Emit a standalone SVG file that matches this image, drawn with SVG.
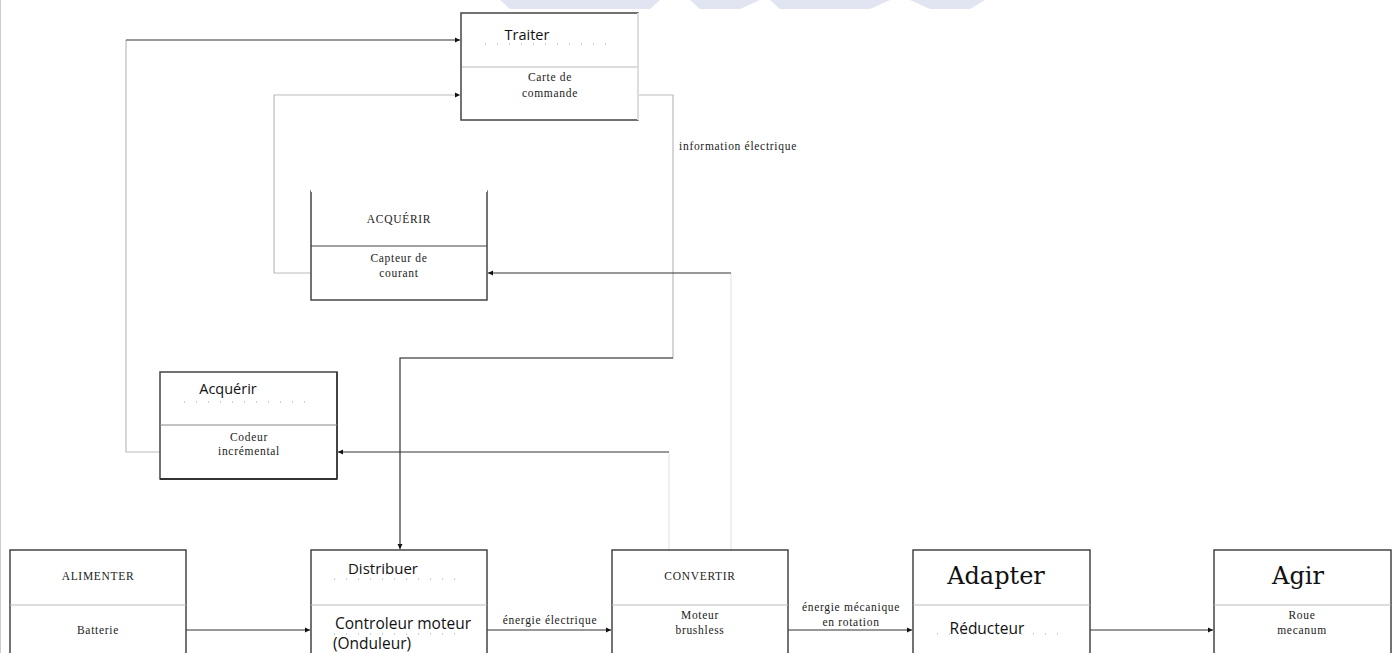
<svg xmlns="http://www.w3.org/2000/svg" width="1395" height="653" viewBox="0 0 1395 653">
<defs>
<marker id="ah" markerWidth="6" markerHeight="6" refX="5" refY="3" orient="auto" markerUnits="userSpaceOnUse">
<path d="M0,0.5 L5,3 L0,5.5 Z" fill="#111"/>
</marker>
<style>
.box{fill:#fff;stroke:#444;stroke-width:1.5}
.div{stroke:#bbb;stroke-width:1}
.dots{stroke:#8aa;stroke-width:1.2;stroke-dasharray:1 11}
.ser{font-family:"Liberation Serif",serif;font-size:11.5px;letter-spacing:0.7px;fill:#222;text-anchor:middle}
.san{font-family:"Open Sans","Liberation Sans",sans-serif;font-size:14.5px;fill:#111;text-anchor:middle}
.big{font-family:"DejaVu Serif","Liberation Serif",serif;font-size:24px;fill:#111;text-anchor:middle}
.c{fill:none;stroke:#333;stroke-width:1.2}
.cl{fill:none;stroke:#bbb;stroke-width:1.2}
.cv{fill:none;stroke:#e6e6e6;stroke-width:1.2}
</style>
</defs>
<rect width="1395" height="653" fill="#fff"/>
<line x1="0.5" y1="0" x2="0.5" y2="653" stroke="#ccc" stroke-width="1"/>
<g id="watermark" fill="#e1e4f1">
<polygon points="500,0 660,0 650,9 510,9"/>
<polygon points="690,0 760,0 740,9 700,9"/>
<polygon points="770,0 890,0 870,9 780,9"/>
<polygon points="910,0 985,0 970,9 930,9"/>
</g>
<g id="connectors">
<path class="cl" d="M160,452 H126 V40"/>
<path class="c" d="M126,40 H460" marker-end="url(#ah)"/>
<path class="cl" d="M311,273 H274 V95 H460" marker-end="url(#ah)"/>
<path class="cl" d="M638,95 H673 V358 H400"/>
<path class="c" d="M673,358 H400 V549" marker-end="url(#ah)"/>
<path class="cv" d="M731,550 V273"/>
<path class="c" d="M731,273 H488" marker-end="url(#ah)" stroke="#555"/>
<path class="cv" d="M669,550 V452"/>
<path class="c" d="M669,452 H338" marker-end="url(#ah)" stroke="#666"/>
<path class="c" d="M186,630 H310" marker-end="url(#ah)"/>
<path class="c" d="M487,630 H611" marker-end="url(#ah)"/>
<path class="c" d="M788,630 H912" marker-end="url(#ah)"/>
<path class="c" d="M1090,630 H1213" marker-end="url(#ah)"/>
<text class="ser" x="738" y="150">information électrique</text>
<text class="ser" x="550" y="624">énergie électrique</text>
<text class="ser" x="851" y="611">énergie mécanique</text>
<text class="ser" x="851" y="626">en rotation</text>
</g>
<g id="traiter">
<rect class="box" x="461" y="13" width="177" height="107" stroke-width="2"/>
<line x1="638" y1="13" x2="638" y2="120" stroke="#ddd" stroke-width="2"/>
<line class="div" x1="462" y1="67" x2="637" y2="67"/>
<text class="san" x="527" y="40">Traiter</text>
<line class="dots" x1="485" y1="44" x2="612" y2="44"/>
<text class="ser" x="550" y="81">Carte de</text>
<text class="ser" x="550" y="97">commande</text>
</g>
<g id="acquerir-capteur">
<rect class="box" x="311" y="191" width="176" height="109" stroke="#777"/>
<line x1="311" y1="191" x2="487" y2="191" stroke="#fff" stroke-width="2"/>
<line x1="311" y1="246" x2="487" y2="246" stroke="#444" stroke-width="1"/>
<text class="ser" x="399" y="223">ACQUÉRIR</text>
<text class="ser" x="399" y="262">Capteur de</text>
<text class="ser" x="399" y="277">courant</text>
</g>
<g id="acquerir-codeur">
<rect class="box" x="160" y="372" width="177" height="107" stroke="#888"/>
<line x1="337" y1="372" x2="337" y2="479" stroke="#333" stroke-width="1.5"/>
<line x1="160" y1="479" x2="337" y2="479" stroke="#333" stroke-width="2"/>
<line x1="160" y1="425" x2="337" y2="425" stroke="#888" stroke-width="1"/>
<text class="san" x="228" y="394">Acquérir</text>
<line class="dots" x1="184" y1="402" x2="312" y2="402"/>
<text class="ser" x="249" y="441">Codeur</text>
<text class="ser" x="249" y="455">incrémental</text>
</g>
<g id="alimenter">
<rect class="box" x="10" y="550" width="176" height="110"/>
<line class="div" x1="10" y1="605" x2="186" y2="605" stroke="#999"/>
<text class="ser" x="98" y="580">ALIMENTER</text>
<text class="ser" x="98" y="634">Batterie</text>
</g>
<g id="distribuer">
<rect class="box" x="311" y="550" width="176" height="110"/>
<line class="div" x1="311" y1="605" x2="487" y2="605" stroke="#999"/>
<text class="san" x="383" y="574" style="font-size:15px">Distribuer</text>
<line class="dots" x1="334" y1="579" x2="462" y2="579"/>
<text class="san" x="403" y="629" style="font-size:15.5px">Controleur moteur</text>
<line class="dots" x1="334" y1="634" x2="462" y2="634"/>
<text class="san" x="372" y="649" style="font-size:15.5px">(Onduleur)</text>
</g>
<g id="convertir">
<rect class="box" x="612" y="550" width="176" height="110"/>
<line class="div" x1="612" y1="605" x2="788" y2="605" stroke="#999"/>
<text class="ser" x="700" y="580">CONVERTIR</text>
<text class="ser" x="700" y="619">Moteur</text>
<text class="ser" x="700" y="634">brushless</text>
</g>
<g id="adapter">
<rect class="box" x="913" y="550" width="177" height="110" stroke="#666"/>
<line class="div" x1="913" y1="605" x2="1090" y2="605" stroke="#999"/>
<text class="big" x="996" y="584">Adapter</text>
<text class="san" x="987" y="634" style="font-size:15.5px">Réducteur</text>
<line class="dots" x1="937" y1="634" x2="1065" y2="634"/>
</g>
<g id="agir">
<rect class="box" x="1214" y="550" width="177" height="110" stroke="#666"/>
<line class="div" x1="1214" y1="605" x2="1391" y2="605" stroke="#999"/>
<text class="big" x="1298" y="584">Agir</text>
<text class="ser" x="1302" y="619">Roue</text>
<text class="ser" x="1302" y="634">mecanum</text>
</g>
</svg>
